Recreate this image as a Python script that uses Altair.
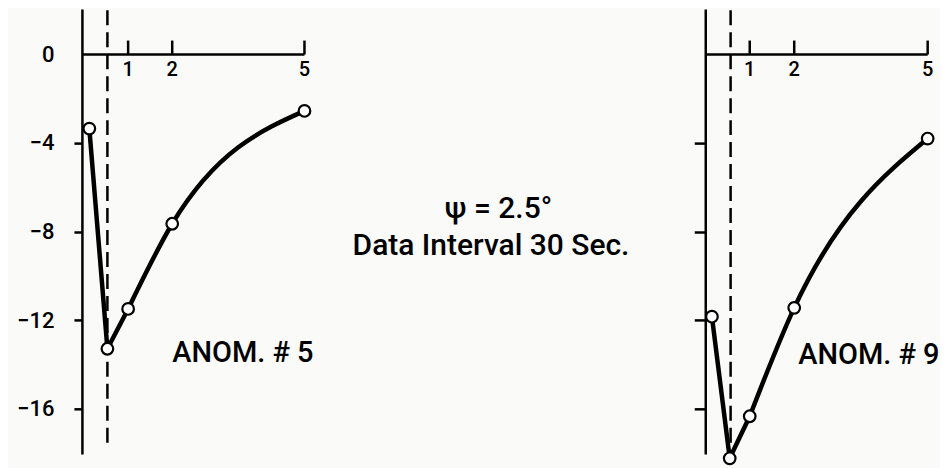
import altair as alt
import pandas as pd

# ---- data ----
left_t = [0.12, 0.53, 1.0, 2.0, 5.0]
left_v = [-3.35, -13.3, -11.5, -7.65, -2.55]
right_t = [0.15, 0.55, 1.0, 2.0, 5.0]
right_v = [-11.85, -18.25, -16.35, -11.45, -3.8]
x_ticks = [1, 2, 5]
x_tick_labels = ["1", "2", "5"]
y_ticks = [0, -4, -8, -12, -16]
dash_left = 0.53
dash_right = 0.57
label_left = "ANOM. # 5"
label_right = "ANOM. # 9"
center_lines = ["ψ = 2.5°", "Data Interval 30 Sec."]

FONT = "Roboto"
Y_DOMAIN = [-18, 2]
H = 443


def panel(t, v, dash, label, label_xy, xdom, width, yaxis):
    df = pd.DataFrame({"t": t, "v": v})
    # sharp V for the first three readings, smooth recovery afterwards
    df_sharp = df.iloc[:3]
    df_smooth = df.iloc[2:]
    xs = alt.Scale(domain=xdom, nice=False, zero=False)
    ys = alt.Scale(domain=Y_DOMAIN, nice=False, zero=False)

    def enc_xy(data_chart):
        return data_chart.encode(
            x=alt.X("t:Q", scale=xs, axis=None),
            y=alt.Y("v:Q", scale=ys, axis=yaxis, title=None),
        )

    line1 = enc_xy(alt.Chart(df_sharp).mark_line(
        interpolate="linear", color="black", strokeWidth=4.5, strokeJoin="round"))
    line2 = enc_xy(alt.Chart(df_smooth).mark_line(
        interpolate="monotone", color="black", strokeWidth=4.5))
    pts = enc_xy(alt.Chart(df).mark_point(
        shape="circle", filled=True, fill="white", stroke="black",
        strokeWidth=2.2, size=135, opacity=1))

    one = pd.DataFrame({"a": [0]})
    dashed = alt.Chart(one).mark_rule(
        color="black", strokeWidth=2.5, strokeDash=[15, 7]
    ).encode(
        x=alt.datum(dash, scale=xs, axis=None),
        y=alt.datum(Y_DOMAIN[1], scale=ys, axis=yaxis, title=None),
        y2=alt.datum(-17.85),
    )
    xline = alt.Chart(one).mark_rule(color="black", strokeWidth=2.5).encode(
        x=alt.datum(xdom[0], scale=xs, axis=None),
        x2=alt.datum(x_ticks[-1]),
        y=alt.datum(0, scale=ys, axis=yaxis, title=None),
    )
    tdf = pd.DataFrame({"tick": x_ticks, "lab": x_tick_labels})
    xt = alt.Chart(tdf).mark_rule(color="black", strokeWidth=2.5).encode(
        x=alt.X("tick:Q", scale=xs, axis=None),
        y=alt.datum(0, scale=ys, axis=yaxis, title=None),
        y2=alt.datum(0.63),
    )
    xl = alt.Chart(tdf).mark_text(
        font=FONT, fontSize=20, fontWeight=500, baseline="alphabetic",
        align="center", dy=22, color="black"
    ).encode(
        x=alt.X("tick:Q", scale=xs, axis=None),
        y=alt.datum(0, scale=ys, axis=yaxis, title=None),
        text="lab:N",
    )
    ann = alt.Chart(one).mark_text(
        font=FONT, fontSize=29, fontWeight=500, align="left",
        baseline="alphabetic", color="black"
    ).encode(
        x=alt.datum(label_xy[0], scale=xs, axis=None),
        y=alt.datum(label_xy[1], scale=ys, axis=yaxis, title=None),
        text=alt.value(label),
    )
    return alt.layer(dashed, xline, xt, xl, line1, line2, pts, ann).properties(
        width=width, height=H
    )


def y_axis(labels, tick_size, pad, extent):
    kw = dict(
        values=y_ticks, grid=False, domainColor="black", domainWidth=2.5,
        tickColor="black", tickWidth=2.5, tickSize=tick_size,
        tickOpacity=alt.condition("datum.value == 0", alt.value(0), alt.value(1)),
        minExtent=extent, maxExtent=extent, domainCap="square",
    )
    if labels:
        kw.update(labels=True, labelFont=FONT, labelFontSize=22,
                  labelFontWeight=500, labelColor="black", labelPadding=pad)
    else:
        kw.update(labels=False)
    return alt.Axis(**kw)


left = panel(left_t, left_v, dash_left, label_left, (2.0, -13.9),
             [-0.048, 5.39], 240, y_axis(True, 8, 20, 74))
right = panel(right_t, right_v, dash_right, label_right, (2.09, -14.0),
              [0.0, 5.21], 232, y_axis(False, 11, 0, 11))

cdf = pd.DataFrame({"a": [0]})
mid = alt.layer(
    alt.Chart(cdf).mark_text(
        font=FONT, fontSize=30, fontWeight=500, align="center",
        baseline="alphabetic", color="black"
    ).encode(x=alt.value(167), y=alt.value(208), text=alt.value(center_lines[0])),
    alt.Chart(cdf).mark_text(
        font=FONT, fontSize=30, fontWeight=500, align="center",
        baseline="alphabetic", color="black"
    ).encode(x=alt.value(159.5), y=alt.value(245), text=alt.value(center_lines[1])),
).properties(width=351, height=H)

chart = alt.hconcat(left, mid, right, spacing=10).properties(
    padding=0, background="#fafaf8"
).configure_view(stroke=None)

chart.save("out.html", embed_options={"renderer": "svg", "actions": False})
